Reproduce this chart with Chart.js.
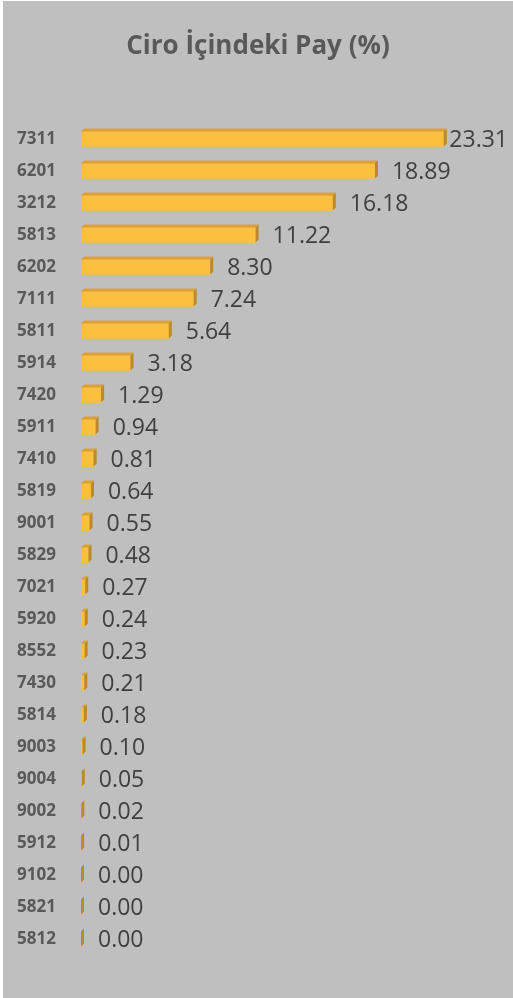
<!DOCTYPE html>
<html>
<head>
<meta charset="utf-8">
<script src="https://cdn.jsdelivr.net/npm/chart.js@4.4.1/dist/chart.umd.min.js"></script>
<style>
  html, body { margin: 0; padding: 0; background: #ffffff; width: 513px; height: 998px; overflow: hidden; }
  #wrap { position: absolute; left: 3px; top: 1px; width: 510px; height: 997px; background: #bfbfbf; }
  canvas { display: block; }
</style>
</head>
<body>
<div id="wrap"><canvas id="c" width="510" height="997"></canvas></div>
<script>
const titleText = 'Ciro İçindeki Pay (%)';
const categories = ['7311','6201','3212','5813','6202','7111','5811','5914','7420','5911','7410','5819','9001','5829','7021','5920','8552','7430','5814','9003','9004','9002','5912','9102','5821','5812'];
const shareValues = [23.31,18.89,16.18,11.22,8.30,7.24,5.64,3.18,1.29,0.94,0.81,0.64,0.55,0.48,0.27,0.24,0.23,0.21,0.18,0.10,0.05,0.02,0.01,0.00,0.00,0.00];

const FRONT = '#fdbf3e';
const TOPC = '#d9a232';
const SIDE = '#b98a26';
const DEPTH = 3;

const bar3d = {
  id: 'bar3d',
  afterDatasetsDraw(chart) {
    const ctx = chart.ctx;
    const meta = chart.getDatasetMeta(0);
    const right = chart.width - 5;
    ctx.save();
    meta.data.forEach((bar, i) => {
      const p = bar.getProps(['x', 'y', 'base', 'height'], true);
      const top = p.y - p.height / 2, bottom = p.y + p.height / 2;
      const x = p.x, base = p.base;
      ctx.fillStyle = TOPC;
      ctx.beginPath();
      ctx.moveTo(base, top); ctx.lineTo(base + DEPTH, top - DEPTH);
      ctx.lineTo(x + DEPTH, top - DEPTH); ctx.lineTo(x, top); ctx.closePath(); ctx.fill();
      ctx.fillStyle = SIDE;
      ctx.beginPath();
      ctx.moveTo(x, top); ctx.lineTo(x + DEPTH, top - DEPTH);
      ctx.lineTo(x + DEPTH, bottom - DEPTH); ctx.lineTo(x, bottom); ctx.closePath(); ctx.fill();
      // value label
      const txt = shareValues[i].toFixed(2);
      ctx.font = '23px "Open Sans"';
      ctx.fillStyle = '#404040';
      ctx.textBaseline = 'middle';
      ctx.textAlign = 'left';
      const w = ctx.measureText(txt).width;
      let lx = x + 17;
      if (lx + w > right) lx = right - w;
      ctx.fillText(txt, lx, p.y + 1);
    });
    ctx.restore();
  }
};

new Chart(document.getElementById('c'), {
  type: 'bar',
  data: {
    labels: categories,
    datasets: [{
      data: shareValues,
      backgroundColor: FRONT,
      borderWidth: 0,
      barThickness: 15,
      minBarLength: 0
    }]
  },
  options: {
    indexAxis: 'y',
    responsive: false,
    animation: false,
    devicePixelRatio: 1,
    layout: { padding: { left: 0, right: 0, top: 0, bottom: 43 } },
    plugins: {
      legend: { display: false },
      tooltip: { enabled: false },
      title: {
        display: true,
        text: titleText,
        color: '#595959',
        font: { family: '"Open Sans"', size: 26, weight: 'bold', lineHeight: 1.2 },
        padding: { top: 30.4, bottom: 60.4 }
      }
    },
    scales: {
      x: {
        display: false,
        min: 0,
        max: 27.76
      },
      y: {
        grid: { display: false, drawTicks: false },
        border: { display: false },
        ticks: {
          color: '#595959',
          font: { family: '"Open Sans"', size: 17, weight: 'bold' },
          padding: 25
        },
        afterFit(scale) { scale.width = 78; }
      }
    }
  },
  plugins: [bar3d]
});
</script>
</body>
</html>
